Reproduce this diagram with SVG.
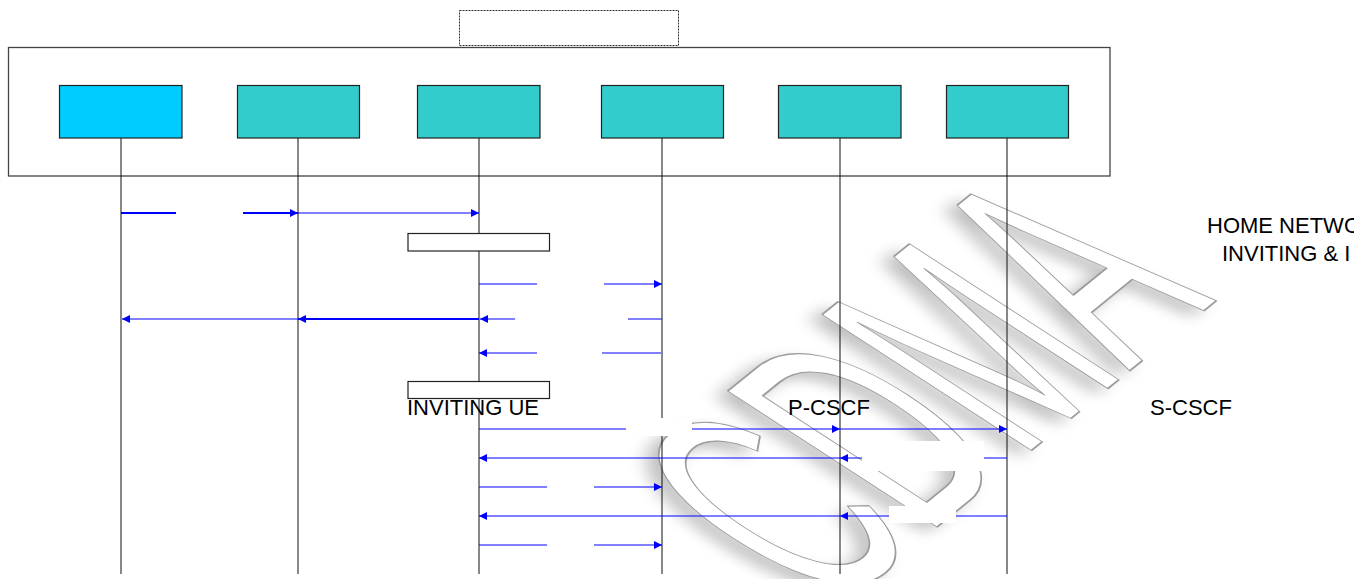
<svg xmlns="http://www.w3.org/2000/svg" width="1354" height="579" viewBox="0 0 1354 579">
<style>
.node{stroke:#222;stroke-width:1.2}
.ue{fill:#00CCFF}
.nf{fill:#33CCCC}
.life{stroke:#111;stroke-width:1;fill:none}
.msg{stroke:#0000FF;stroke-width:1.2;fill:none}
.thick{stroke-width:2}
.lbl{font-family:"Liberation Sans",Arial,sans-serif;font-size:22px;fill:#000}
.note{fill:#fff;stroke:#222;stroke-width:1.2}
.mask{fill:#fff;stroke:none}
.wm{font-family:"Liberation Sans",Arial,sans-serif;font-size:345px}
</style>
<defs>
<marker id="ah" viewBox="0 0 10 10" refX="10" refY="5" markerWidth="9" markerHeight="8" markerUnits="userSpaceOnUse" orient="auto">
<path d="M0,0 L10,5 L0,10 z" fill="#0000FF"/>
</marker>
<filter id="blur" x="-20%" y="-20%" width="140%" height="140%">
<feGaussianBlur stdDeviation="8"/>
</filter>
</defs>

<g id="watermark">
<g transform="translate(-12,6)">
<text class="wm" transform="translate(832,612) rotate(-39) skewX(18)" x="0" y="0" textLength="495" lengthAdjust="spacingAndGlyphs" fill="#000" opacity="0.26" filter="url(#blur)">CDMA</text>
</g>
<text class="wm" transform="translate(832,612) rotate(-39) skewX(18)" x="0" y="0" textLength="495" lengthAdjust="spacingAndGlyphs" fill="#fff" stroke="#9c9c9c" stroke-width="1.8" stroke-linejoin="round">CDMA</text>
</g>

<g id="frame">
<rect x="459.5" y="10.5" width="219" height="35" fill="none" stroke="#333" stroke-width="1" stroke-dasharray="2,1"/>
<rect x="8.5" y="47.5" width="1101.5" height="128.5" fill="none" stroke="#444" stroke-width="1.3"/>
</g>

<g id="lifelines">
<line class="life" x1="121" y1="138" x2="121" y2="574"/>
<line class="life" x1="298" y1="138" x2="298" y2="574"/>
<line class="life" x1="479" y1="138" x2="479" y2="574"/>
<line class="life" x1="662" y1="138" x2="662" y2="574"/>
<line class="life" x1="840" y1="138" x2="840" y2="574"/>
<line class="life" x1="1007" y1="138" x2="1007" y2="574"/>
</g>

<g id="node-1"><rect class="node ue" x="59.5" y="85.5" width="122.5" height="52.5"/></g>
<g id="node-2"><rect class="node nf" x="237.5" y="85.5" width="122" height="52.5"/></g>
<g id="node-3"><rect class="node nf" x="417.5" y="85.5" width="122.5" height="52.5"/></g>
<g id="node-4"><rect class="node nf" x="601.5" y="85.5" width="122" height="52.5"/></g>
<g id="node-5"><rect class="node nf" x="778.5" y="85.5" width="122.5" height="52.5"/></g>
<g id="node-6"><rect class="node nf" x="946.5" y="85.5" width="122" height="52.5"/></g>

<g id="notes">
<rect class="note" x="408" y="233.5" width="141.5" height="17.5"/>
<rect class="note" x="408" y="381.5" width="141.5" height="17"/>
</g>

<g id="connectors">
<line class="msg thick" x1="121" y1="213" x2="176" y2="213"/>
<line class="msg thick" x1="243" y1="213" x2="298" y2="213" marker-end="url(#ah)"/>
<line class="msg" x1="298" y1="213" x2="479" y2="213" marker-end="url(#ah)"/>

<line class="msg" x1="479" y1="284" x2="537" y2="284"/>
<line class="msg" x1="604" y1="284" x2="662" y2="284" marker-end="url(#ah)"/>

<line class="msg" x1="298" y1="319" x2="122" y2="319" marker-end="url(#ah)"/>
<line class="msg thick" x1="479" y1="319" x2="298" y2="319" marker-end="url(#ah)"/>
<line class="msg" x1="515" y1="319" x2="480" y2="319" marker-end="url(#ah)"/>
<line class="msg" x1="628" y1="319" x2="662" y2="319"/>

<line class="msg" x1="537" y1="353" x2="479" y2="353" marker-end="url(#ah)"/>
<line class="msg" x1="602" y1="353" x2="661" y2="353"/>

<line class="msg" x1="479" y1="429" x2="626" y2="429"/>
<line class="msg" x1="692" y1="429" x2="840" y2="429" marker-end="url(#ah)"/>
<line class="msg" x1="840" y1="429" x2="1007" y2="429" marker-end="url(#ah)"/>

<line class="msg" x1="1007" y1="458" x2="840" y2="458" marker-end="url(#ah)"/>
<line class="msg" x1="840" y1="458" x2="479" y2="458" marker-end="url(#ah)"/>

<line class="msg" x1="479" y1="487" x2="547" y2="487"/>
<line class="msg" x1="594" y1="487" x2="662" y2="487" marker-end="url(#ah)"/>

<line class="msg" x1="1007" y1="516" x2="840" y2="516" marker-end="url(#ah)"/>
<line class="msg" x1="840" y1="516" x2="479" y2="516" marker-end="url(#ah)"/>

<line class="msg" x1="479" y1="545" x2="547" y2="545"/>
<line class="msg" x1="594" y1="545" x2="662" y2="545" marker-end="url(#ah)"/>
</g>

<g id="label-masks">
<rect class="mask" x="626" y="418" width="66" height="18"/>
<rect class="mask" x="862" y="441" width="122" height="30"/>
<rect class="mask" x="889" y="506" width="67" height="17"/>
</g>

<g id="labels">
<text class="lbl" x="407" y="415">INVITING UE</text>
<text class="lbl" x="788" y="415">P-CSCF</text>
<text class="lbl" x="1150" y="415">S-CSCF</text>
<text class="lbl" x="1207" y="233">HOME NETWO</text>
<text class="lbl" x="1222" y="261">INVITING &amp; I</text>
</g>
</svg>
